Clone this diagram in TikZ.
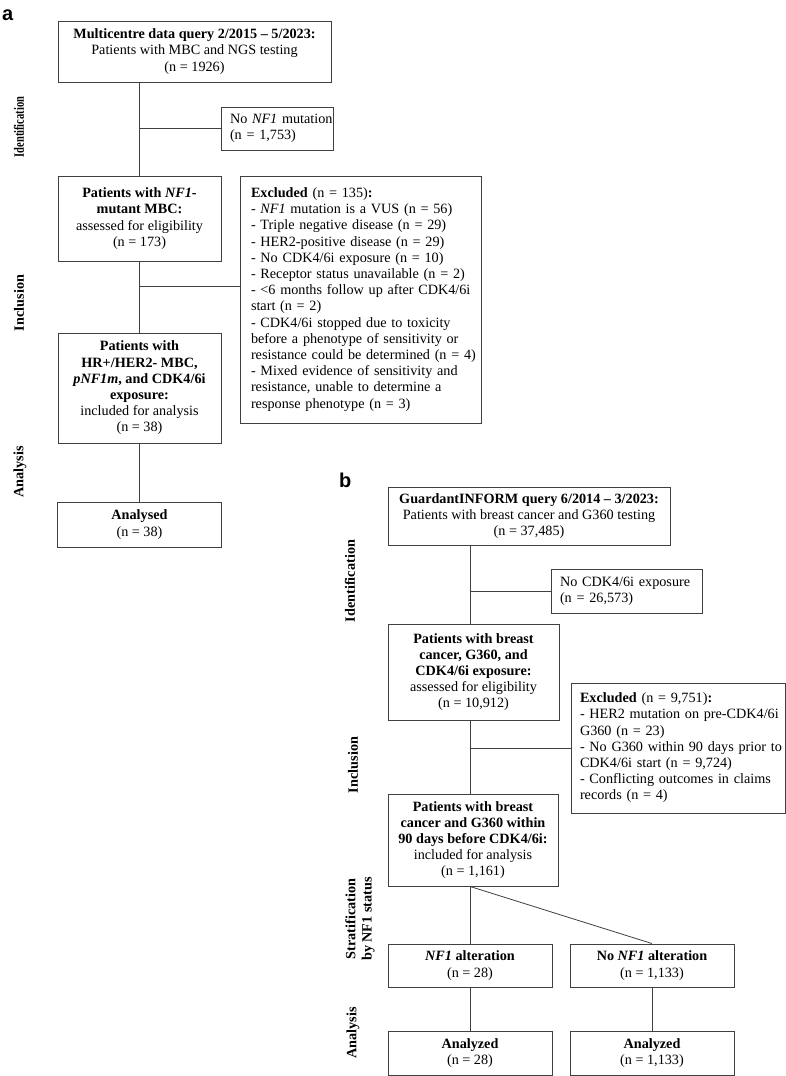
\documentclass[tikz,border=0pt]{standalone}
\usepackage{fontspec}
\setmainfont{Liberation Serif}
\newfontfamily\panelfont{Liberation Sans}
\newcommand\fs{\fontsize{14.2}{16.2}\selectfont}
\newenvironment{llines}{\begin{tabular}{@{}l@{}}}{\end{tabular}}
\tikzset{
  box/.style={draw=black!75, line width=0.9pt, inner sep=0pt, font=\fs},
  cbox/.style={box, align=center},
  lbox/.style={box, align=left, inner xsep=9pt},
  conn/.style={draw=black!75, line width=0.8pt},
  stage/.style={rotate=90, font=\fs\bfseries, align=center},
  panel/.style={font=\panelfont\bfseries\fontsize{20}{22}\selectfont, anchor=base west, inner sep=0pt},
}
\begin{document}
\begin{tikzpicture}[x=1pt,y=-1pt]
\useasboundingbox (0,0) rectangle (786,1076);
% panel labels
\node[panel] (pa) at (2,20) {a};
\node[panel] (pb) at (339,487) {b};
% ---------- panel a ----------
\node[cbox, minimum width=273, minimum height=61] (a1) at (194.5,51.5)
  {\textbf{Multicentre data query 2/2015 – 5/2023:}\\Patients with MBC and NGS testing\\(n = 1926)};
\node[lbox, text width=94, minimum height=43] (a2) at (277,128.5)
  {\begin{llines}No \textit{NF1} mutation\\(n = 1,753)\end{llines}};
\node[cbox, minimum width=163, minimum height=85] (a3) at (139.5,218.5)
  {\textbf{Patients with \textit{NF1}-}\\\textbf{mutant MBC:}\\assessed for eligibility\\(n = 173)};
\node[lbox, inner xsep=11pt, text width=219, minimum height=247] (a4) at (360.5,299.5)
  {\begin{llines}\textbf{Excluded} (n = 135)\textbf{:}\\
   - \textit{NF1} mutation is a VUS (n = 56)\\
   - Triple negative disease (n = 29)\\
   - HER2-positive disease (n = 29)\\
   - No CDK4/6i exposure (n = 10)\\
   - Receptor status unavailable (n = 2)\\
   - <6 months follow up after CDK4/6i\\
   start (n = 2)\\
   - CDK4/6i stopped due to toxicity\\
   before a phenotype of sensitivity or\\
   resistance could be determined (n = 4)\\
   - Mixed evidence of sensitivity and\\
   resistance, unable to determine a\\
   response phenotype (n = 3)\end{llines}};
\node[cbox, minimum width=163, minimum height=110] (a5) at (139.5,388)
  {\textbf{Patients with}\\\textbf{HR+/HER2- MBC,}\\\textbf{\textit{pNF1m}, and CDK4/6i}\\\textbf{exposure:}\\included for analysis\\(n = 38)};
\node[cbox, minimum width=164, minimum height=45] (a6) at (139.5,524.5)
  {\textbf{Analysed}\\(n = 38)};
\coordinate (ja) at (139.5,286);
\draw[conn] (a3.north |- a1.south) -- (a3.north);
\draw[conn] (a2.west -| a3.north) -- (a2.west);
\draw[conn] (a3.south) -- (a5.north);
\draw[conn] (ja) -- (ja -| a4.west);
\draw[conn] (a5.south) -- (a6.north);
\node[stage] (la1) at (19,127) {\scalebox{0.74}[1]{Identification}};
\node[stage] (la2) at (19,303) {Inclusion};
\node[stage] (la3) at (20,472) {Analysis};
% ---------- panel b ----------
\node[cbox, minimum width=282, minimum height=58] (b1) at (529,516)
  {\textbf{GuardantINFORM query 6/2014 – 3/2023:}\\Patients with breast cancer and G360 testing\\(n = 37,485)};
\node[lbox, text width=133, minimum height=44] (b2) at (626.5,591)
  {\begin{llines}No CDK4/6i exposure\\(n = 26,573)\end{llines}};
\node[cbox, minimum width=171, minimum height=96] (b3) at (473.5,672)
  {\textbf{Patients with breast}\\\textbf{cancer, G360, and}\\\textbf{CDK4/6i exposure:}\\assessed for eligibility\\(n = 10,912)};
\node[lbox, text width=196, minimum height=130] (b4) at (678,748)
  {\begin{llines}\textbf{Excluded} (n = 9,751)\textbf{:}\\
   - HER2 mutation on pre-CDK4/6i\\
   G360 (n = 23)\\
   - No G360 within 90 days prior to\\
   CDK4/6i start (n = 9,724)\\
   - Conflicting outcomes in claims\\
   records (n = 4)\end{llines}};
\node[cbox, minimum width=170, minimum height=92] (b5) at (473,840)
  {\textbf{Patients with breast}\\\textbf{cancer and G360 within}\\\textbf{90 days before CDK4/6i:}\\included for analysis\\(n = 1,161)};
\node[cbox, minimum width=164, minimum height=43] (b6) at (470,965.5)
  {\textbf{\textit{NF1} alteration}\\(n = 28)};
\node[cbox, minimum width=164, minimum height=43] (b7) at (652,965.5)
  {\textbf{No \textit{NF1} alteration}\\(n = 1,133)};
\node[cbox, minimum width=164, minimum height=44] (b8) at (470,1053)
  {\textbf{Analyzed}\\(n = 28)};
\node[cbox, minimum width=164, minimum height=44] (b9) at (652,1053)
  {\textbf{Analyzed}\\(n = 1,133)};
\draw[conn] (b6.north |- b1.south) -- (b6.north |- b3.north);
\draw[conn] (b2.west -| b6.north) -- (b2.west);
\draw[conn] (b6.north |- b3.south) -- (b6.north |- b5.north);
\draw[conn] (b4.west -| b6.north) -- (b4.west);
\draw[conn] (b6.north |- b5.south) -- (b6.north);
\draw[conn] (b6.north |- b5.south) -- (b7.north);
\draw[conn] (b6.south) -- (b8.north);
\draw[conn] (b7.south) -- (b9.north);
\node[stage] (lb1) at (350,581) {Identification};
\node[stage] (lb2) at (353,765) {Inclusion};
\node[stage] (lb3) at (360,919) {Stratification\\by NF1 status};
\node[stage] (lb4) at (353,1033) {Analysis};
\end{tikzpicture}
\end{document}
